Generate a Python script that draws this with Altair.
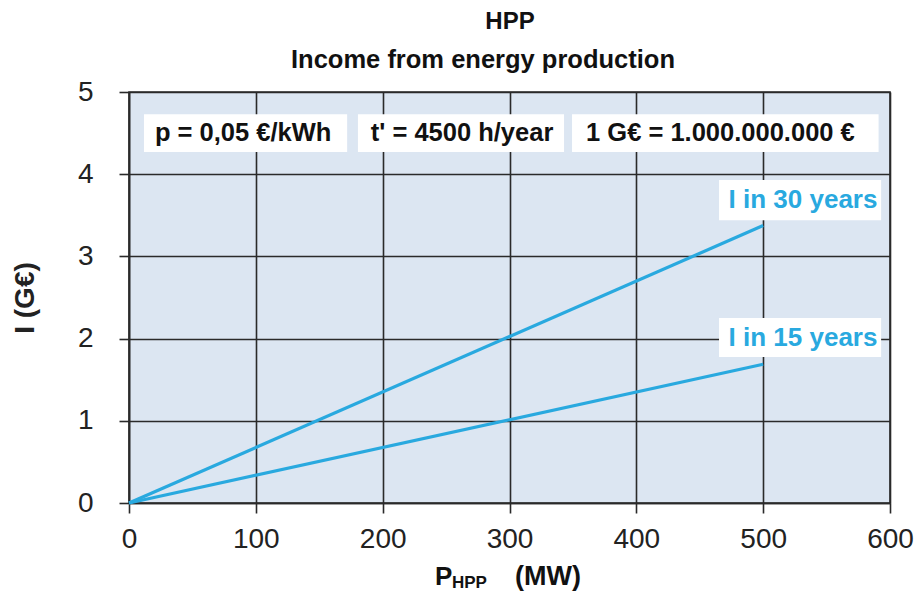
import altair as alt
import pandas as pd

# ---- data ----
power_mw = [0, 500]
income_15y = [0, 1.6875]
income_30y = [0, 3.375]
series_names = ["I in 15 years", "I in 30 years"]

x_ticks = [0, 100, 200, 300, 400, 500, 600]
y_ticks = [0, 1, 2, 3, 4, 5]

info_texts = ["p = 0,05 €/kWh", "t' = 4500 h/year", "1 G€ = 1.000.000.000 €"]

BLUE = "#29a9df"
FONT = "Liberation Sans"

lines_df = pd.DataFrame({
    "P": power_mw * 2,
    "I": income_15y + income_30y,
    "s": [series_names[0]] * 2 + [series_names[1]] * 2,
})

# annotation layout (data units)
info_df = pd.DataFrame({
    "text": info_texts,
    "x0": [11.8, 180.5, 349.3],
    "x1": [172, 343, 591],
    "xc": [90, 262.6, 466.3],
    "y0": [4.27, 4.27, 4.27],
    "y1": [4.73, 4.73, 4.73],
    "yc": [4.5, 4.5, 4.5],
})
lab_df = pd.DataFrame({
    "text": [series_names[1], series_names[0]],
    "x0": [465.2, 465.2],
    "x1": [593, 593],
    "xc": [531.4, 531.4],
    "y0": [3.44, 1.776],
    "y1": [3.93, 2.25],
    "yc": [3.686, 2.007],
})

xs = alt.Scale(domain=[0, 600], nice=False)
ys = alt.Scale(domain=[0, 5], nice=False)

x_axis = alt.Axis(values=x_ticks, format="d", title=None, grid=True, gridColor="#2a2a2a", gridWidth=1.6,
                  domainColor="#2a2a2a", domainWidth=1.6, tickColor="#2a2a2a", tickWidth=1.6,
                  tickSize=10, labelFont=FONT, labelFontSize=28, labelColor="#222222",
                  labelPadding=12, labelFlush=False)
y_axis = alt.Axis(values=y_ticks, format="d", title="I (G€)", grid=True, gridColor="#2a2a2a", gridWidth=1.6,
                  domainColor="#2a2a2a", domainWidth=1.6, tickColor="#2a2a2a", tickWidth=1.6,
                  tickSize=10, labelFont=FONT, labelFontSize=28, labelColor="#222222",
                  labelPadding=26, titleFont=FONT, titleFontSize=28, titleFontWeight="bold",
                  titleColor="#222222", titlePadding=38, labelFlush=False)

base_axes = alt.Chart(lines_df).mark_line(opacity=0).encode(
    x=alt.X("P:Q", scale=xs, axis=x_axis),
    y=alt.Y("I:Q", scale=ys, axis=y_axis),
)

info_boxes = alt.Chart(info_df).mark_rect(color="white").encode(
    x=alt.X("x0:Q", scale=xs), x2="x1:Q",
    y=alt.Y("y0:Q", scale=ys), y2="y1:Q",
)
info_text = alt.Chart(info_df).mark_text(font=FONT, fontSize=25.5, fontWeight="bold",
                                         color="#111111", baseline="middle").encode(
    x=alt.X("xc:Q", scale=xs), y=alt.Y("yc:Q", scale=ys), text="text:N",
)

lines = alt.Chart(lines_df).mark_line(color=BLUE, strokeWidth=3.2).encode(
    x=alt.X("P:Q", scale=xs), y=alt.Y("I:Q", scale=ys), detail="s:N",
)

lab_boxes = alt.Chart(lab_df).mark_rect(color="white").encode(
    x=alt.X("x0:Q", scale=xs), x2="x1:Q",
    y=alt.Y("y0:Q", scale=ys), y2="y1:Q",
)
lab_text = alt.Chart(lab_df).mark_text(font=FONT, fontSize=26, fontWeight="bold",
                                       color=BLUE, baseline="middle").encode(
    x=alt.X("xc:Q", scale=xs), y=alt.Y("yc:Q", scale=ys), text="text:N",
)

# titles (positioned in pixels relative to plot area)
title_df = pd.DataFrame({"t": ["HPP"]})
title = alt.Chart(title_df).mark_text(font=FONT, fontSize=24, fontWeight="bold", color="#111111",
                                      baseline="middle").encode(
    x=alt.value(381), y=alt.value(-70), text="t:N")
sub_df = pd.DataFrame({"t": ["Income from energy production"]})
subtitle = alt.Chart(sub_df).mark_text(font=FONT, fontSize=25.5, fontWeight="bold", color="#111111",
                                       baseline="middle").encode(
    x=alt.value(354), y=alt.value(-32), text="t:N")

xt1 = alt.Chart(pd.DataFrame({"t": ["P"]})).mark_text(
    font=FONT, fontSize=26, fontWeight="bold", color="#111111", align="left", baseline="alphabetic"
).encode(x=alt.value(306), y=alt.value(493), text="t:N")
xt2 = alt.Chart(pd.DataFrame({"t": ["HPP"]})).mark_text(
    font=FONT, fontSize=17, fontWeight="bold", color="#111111", align="left", baseline="alphabetic"
).encode(x=alt.value(323), y=alt.value(496), text="t:N")
xt3 = alt.Chart(pd.DataFrame({"t": ["(MW)"]})).mark_text(
    font=FONT, fontSize=27, fontWeight="bold", color="#111111", align="left", baseline="alphabetic"
).encode(x=alt.value(386), y=alt.value(493), text="t:N")

chart = alt.layer(
    base_axes, info_boxes, info_text, lines, lab_boxes, lab_text,
    title, subtitle, xt1, xt2, xt3,
).properties(
    width=761, height=411,
    autosize=alt.AutoSizeParams(type="none"),
    padding={"left": 121, "top": 84, "right": 24, "bottom": 89},
    background="white",
).configure_view(fill="#dce6f2", stroke="#2a2a2a", strokeWidth=1.6)

chart.save("out.html", embed_options={"renderer": "svg", "actions": False})
